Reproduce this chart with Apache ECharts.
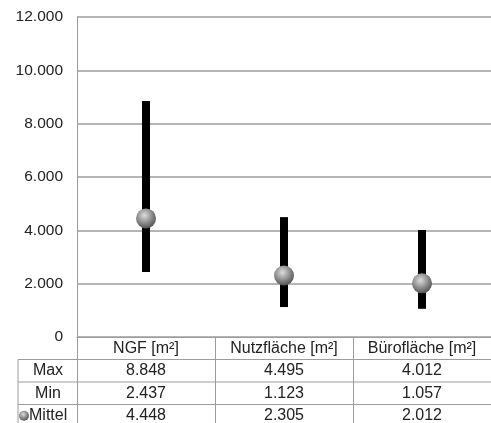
<!DOCTYPE html>
<html>
<head>
<meta charset="utf-8">
<script src="https://cdn.jsdelivr.net/npm/echarts@6/dist/echarts.min.js"></script>
<style>
  html, body { margin: 0; padding: 0; background: #fff; }
  #main { width: 491px; height: 423px; }
</style>
</head>
<body>
<div id="main"></div>
<script>
// Daten
var categories = ['NGF [m²]', 'Nutzfläche [m²]', 'Bürofläche [m²]'];
var maxValues = [8848, 4495, 4012];
var minValues = [2437, 1123, 1057];
var meanValues = [4448, 2305, 2012];
var rowLabels = ['Max', 'Min', 'Mittel'];

var gridColor = '#9c9c9c';
var textColor = '#222';
var fontFamily = '"Liberation Sans", Arial, sans-serif';

// 8848 -> "8.848"
function fmt (v) {
  if (v === 0) return '0';
  var rest = String(v % 1000);
  while (rest.length < 3) rest = '0' + rest;
  return Math.floor(v / 1000) + '.' + rest;
}

var sphere = {
  type: 'radial', x: 0.42, y: 0.35, r: 0.7,
  colorStops: [
    { offset: 0, color: '#dcdcdc' },
    { offset: 0.55, color: '#8c8c8c' },
    { offset: 1, color: '#4a4a4a' }
  ]
};

var myChart = echarts.init(document.getElementById('main'));

// Tabelle: Linien + Zeilenbeschriftung
var rowTop = 337, rowH = 22.5;
var graphics = [];
for (var i = 1; i <= 3; i++) {
  graphics.push({
    type: 'line', silent: true,
    shape: { x1: 18, y1: rowTop + rowH * i, x2: 491, y2: rowTop + rowH * i },
    style: { stroke: gridColor, lineWidth: 1 }
  });
}
graphics.push({
  type: 'line', silent: true,
  shape: { x1: 18, y1: rowTop + rowH, x2: 18, y2: 423 },
  style: { stroke: gridColor, lineWidth: 1 }
});
rowLabels.forEach(function (lbl, i) {
  var cy = rowTop + rowH * (i + 1) + rowH / 2;
  if (lbl === 'Mittel') {
    graphics.push({
      type: 'circle', silent: true,
      shape: { cx: 24, cy: cy, r: 5 },
      style: { fill: sphere }
    });
    graphics.push({
      type: 'text', silent: true, x: 29, y: cy,
      style: { text: lbl, font: '16px ' + fontFamily, fill: textColor, textAlign: 'left', textVerticalAlign: 'middle' }
    });
  } else {
    graphics.push({
      type: 'text', silent: true, x: 48, y: cy,
      style: { text: lbl, font: '16px ' + fontFamily, fill: textColor, textAlign: 'center', textVerticalAlign: 'middle' }
    });
  }
});

myChart.setOption({
  animation: false,
  backgroundColor: '#fff',
  textStyle: { fontFamily: fontFamily },
  grid: { left: 77, right: 0, top: 17, bottom: 86, containLabel: false, outerBoundsMode: 'none' },
  xAxis: {
    type: 'category',
    data: categories,
    boundaryGap: true,
    axisLine: { show: true, lineStyle: { color: gridColor, width: 1 } },
    axisTick: { show: true, interval: 0, length: 86, lineStyle: { color: gridColor, width: 1 } },
    axisLabel: {
      interval: 0,
      margin: 0,
      color: textColor,
      fontSize: 16,
      lineHeight: rowH,
      formatter: function (value, idx) {
        return [value, fmt(maxValues[idx]), fmt(minValues[idx]), fmt(meanValues[idx])].join('\n');
      }
    }
  },
  yAxis: {
    type: 'value',
    min: 0,
    max: 12000,
    interval: 2000,
    axisLine: { show: true, lineStyle: { color: gridColor, width: 1 } },
    axisTick: { show: false },
    splitLine: { lineStyle: { color: gridColor, width: 1.5 } },
    axisLabel: {
      color: textColor,
      fontSize: 15.5,
      margin: 14,
      formatter: function (v) { return fmt(v); }
    }
  },
  graphic: graphics,
  series: [
    {
      // senkrechter Balken von Min bis Max
      type: 'custom',
      data: categories.map(function (c, i) { return [i, minValues[i], maxValues[i]]; }),
      renderItem: function (params, api) {
        var p1 = api.coord([api.value(0), api.value(1)]);
        var p2 = api.coord([api.value(0), api.value(2)]);
        return {
          type: 'line',
          shape: { x1: p1[0], y1: p1[1], x2: p2[0], y2: p2[1] },
          style: { stroke: '#000', lineWidth: 8 }
        };
      },
      z: 3
    },
    {
      name: 'Mittel',
      type: 'scatter',
      data: meanValues,
      symbol: 'circle',
      symbolSize: 20,
      itemStyle: { color: sphere, opacity: 1 },
      z: 4
    }
  ]
});
</script>
</body>
</html>
